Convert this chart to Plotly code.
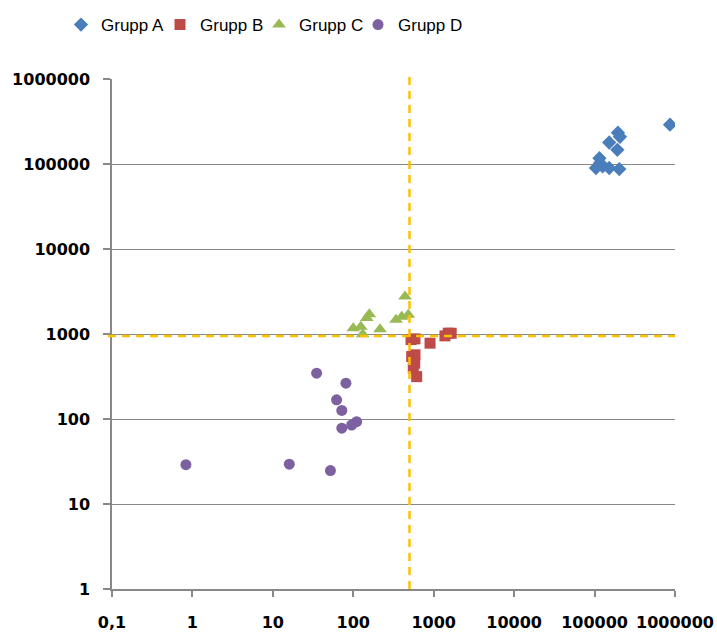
import plotly.graph_objects as go

# Data
a_x = [867000, 195000, 207000, 152000, 192000, 115000, 104000, 126000, 152000, 203000, 117000]
a_y = [290000, 233000, 209000, 179000, 147000, 117000, 89700, 93600, 89700, 87200, 103000]

b_x = [585, 522, 900, 1517, 1380, 1650, 532, 585, 557, 614, 580]
b_y = [877, 860, 780, 1023, 950, 1020, 543, 569, 396, 315, 454]

c_x = [440, 158, 147, 483, 400, 340, 100, 124, 131, 215]
c_y = [2760, 1710, 1540, 1680, 1600, 1470, 1170, 1220, 996, 1140]

d_x = [35, 81, 62, 72, 110, 95.5, 72, 16, 52, 0.83]
d_y = [346, 264, 168, 126, 93, 85, 78, 29.4, 24.7, 29]

ref_x = 500
ref_y = 950

tick_vals = [0.1, 1, 10, 100, 1000, 10000, 100000, 1000000]
tick_text = ["0,1", "1", "10", "100", "1000", "10000", "100000", "1000000"]
y_tick_vals = [1, 10, 100, 1000, 10000, 100000, 1000000]
y_tick_text = ["1", "10", "100", "1000", "10000", "100000", "1000000"]

fig = go.Figure()
fig.add_trace(go.Scatter(x=a_x, y=a_y, mode="markers", name="Grupp A", legend="legend",
                         marker=dict(symbol="diamond", size=11, color="#4A7EBB")))
fig.add_trace(go.Scatter(x=b_x, y=b_y, mode="markers", name="Grupp B", legend="legend2",
                         marker=dict(symbol="square", size=11, color="#BE4B48")))
fig.add_trace(go.Scatter(x=c_x, y=c_y, mode="markers", name="Grupp C", legend="legend3",
                         marker=dict(symbol="triangle-up", size=12, color="#98B954")))
fig.add_trace(go.Scatter(x=d_x, y=d_y, mode="markers", name="Grupp D", legend="legend4",
                         marker=dict(symbol="circle", size=11, color="#7D60A0")))

fig.add_shape(type="line", xref="x", yref="paper", x0=ref_x, x1=ref_x, y0=0, y1=1.014,
              line=dict(color="#FFC000", width=2.5, dash="8px,6px"), layer="above")
fig.add_shape(type="line", xref="paper", yref="y", x0=-0.007, x1=1.0, y0=ref_y, y1=ref_y,
              line=dict(color="#FFC000", width=2.5, dash="8px,6px"), layer="above")

legend_font = dict(family="Liberation Sans", size=17, color="#000000")


def leg(px):
    return dict(orientation="h", xref="container", yref="container",
                x=px / 717, y=0.9606, xanchor="left", yanchor="middle",
                bgcolor="rgba(0,0,0,0)", font=legend_font, itemwidth=30)


fig.update_layout(
    width=717, height=634,
    margin=dict(l=112, r=42, t=79, b=45, autoexpand=False),
    paper_bgcolor="white", plot_bgcolor="white",
    showlegend=True,
    legend=leg(61), legend2=leg(160), legend3=leg(259), legend4=leg(358),
    font=dict(family="DejaVu Sans", color="#000000"),
)
fig.update_xaxes(type="log", range=[-1, 6], tickvals=tick_vals, ticktext=tick_text,
                 showgrid=False, zeroline=False, showline=True, linecolor="#888888", linewidth=1.5,
                 ticks="outside", ticklen=6, tickcolor="#888888", tickwidth=1.5,
                 ticklabelstandoff=12, automargin=False,
                 tickfont=dict(family="DejaVu Sans", size=16, color="#000000", weight="bold"))
fig.update_yaxes(type="log", range=[0, 6], tickvals=y_tick_vals, ticktext=y_tick_text,
                 showgrid=True, gridcolor="#888888", gridwidth=1.2, zeroline=False,
                 showline=True, linecolor="#888888", linewidth=1.5,
                 ticks="outside", ticklen=7, tickcolor="#888888", tickwidth=1.5,
                 ticklabelstandoff=10, automargin=False,
                 tickfont=dict(family="DejaVu Sans", size=16, color="#000000", weight="bold"))

fig.write_html("out.html", config={"displayModeBar": False},
               post_script="document.body.style.margin='0px';document.body.style.overflow='hidden';")
